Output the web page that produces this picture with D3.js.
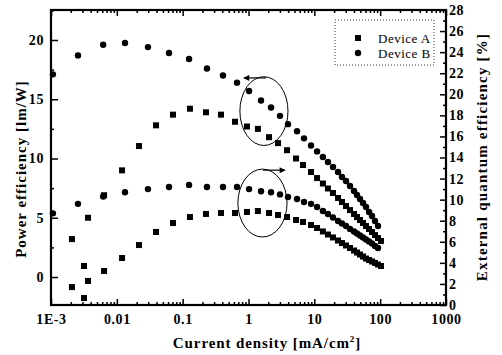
<!DOCTYPE html>
<html>
<head>
<meta charset="utf-8">
<script src="https://cdnjs.cloudflare.com/ajax/libs/d3/7.8.5/d3.min.js"></script>
<style>
body{margin:0;background:#fff;}
svg{display:block;}
text{font-family:'Liberation Serif','Times New Roman',serif;fill:#000;}
</style>
</head>
<body>
<script>
// values (current density in mA/cm2)
var currentA = [0.00208,0.00317,0.00365,0.0064,0.0120,0.0217,0.0394,0.0713,0.129,0.226,0.382,0.624,0.948,1.39,2.05,2.81,3.85,5.27,6.73,8.91,11.0,
    13.5,16.1,19.2,22.9,26.3,30.3,34.8,40.1,44.5,49.4,54.9,61.0,67.8,75.2,83.5,92.7,103];
var powerA = [3.2,0.93,5.0,6.9,9.0,11.05,12.8,13.7,14.2,13.9,13.7,13.1,12.7,12.5,11.8,11.3,10.7,10.0,9.45,8.86,8.35,
    7.89,7.47,7.09,6.67,6.33,5.99,5.65,5.32,5.06,4.81,4.56,4.30,4.05,3.80,3.54,3.29,3.04];
var eqeA = [1.7,0.66,2.28,3.23,4.46,5.69,6.93,7.78,8.35,8.64,8.73,8.73,8.83,8.92,8.73,8.54,8.35,8.07,7.88,7.59,7.31,
    6.98,6.69,6.41,6.12,5.88,5.65,5.41,5.17,4.98,4.79,4.60,4.41,4.27,4.13,3.99,3.84,3.70];

var currentB = [0.00107,0.00257,0.0062,0.0133,0.0297,0.0620,0.125,0.234,0.410,0.669,1.02,1.55,2.20,3.01,3.98,5.46,6.97,8.91,11.0,
    13.5,16.1,19.2,22.9,26.3,30.3,34.8,40.1,44.5,49.4,54.9,61.0,67.8,75.2,83.5,92.7];
var powerB = [17.1,18.7,19.6,19.75,19.4,18.9,18.4,17.6,17.0,16.4,15.7,14.9,14.3,13.6,12.9,12.3,11.7,11.1,10.6,
    10.13,9.70,9.28,8.86,8.44,8.10,7.68,7.26,6.92,6.58,6.24,5.91,5.49,5.15,4.73,4.30];
var eqeB = [8.7,9.6,10.3,10.7,11.0,11.2,11.4,11.2,11.2,11.2,11.0,10.8,10.7,10.5,10.25,10.06,9.78,9.6,9.3,
    8.92,8.64,8.30,7.97,7.74,7.50,7.21,6.98,6.79,6.60,6.41,6.22,6.03,5.84,5.60,5.41];

var xTicks = [0.001,0.01,0.1,1,10,100,1000];
var xTickLabels = ['1E-3','0.01','0.1','1','10','100','1000'];
var powerTicks = [0,5,10,15,20];
var powerMinor = [-2.5,2.5,7.5,12.5,17.5,22.5];
var eqeTicks = [0,2,4,6,8,10,12,14,16,18,20,22,24,26,28];
var legendNames = ['Device A','Device B'];

// the two circled groups: [current range], [value range], arrow [from,to] current and level
var loopPower = {current:[0.74,3.98], value:[11.1,16.9], arrow:[1.85,0.85], level:16.8};
var loopEqe = {current:[0.69,3.85], value:[6.45,12.9], arrow:[1.66,3.59], level:12.8};

var L=51,R=446,T=10,B=305;
var svg = d3.select('body').append('svg').attr('width',502).attr('height',355);

var x = d3.scaleLog().domain([1e-3,1e3]).range([L,R]);
var yP = d3.scaleLinear().domain([-2.36,22.53]).range([B,T]);
var yE = d3.scaleLinear().domain([0,28]).range([B,T]);

var xMinor = [];
for(var e=-3;e<3;e++){
    for(var k=2;k<10;k++) xMinor.push(k*Math.pow(10,e));
}
var eqeMinor = d3.range(1,28,2);

function styleAxis(g,size){
    g.select('.domain').remove();
    g.selectAll('.tick line').attr('stroke','#000').attr('stroke-width',1.5);
    g.selectAll('.tick text').attr('font-size',size).attr('font-weight','bold')
        .attr('font-family',"'Liberation Serif',serif").attr('letter-spacing','0.6px');
}

// bottom
svg.append('g').attr('transform','translate(0,'+B+')')
    .call(d3.axisBottom(x).tickValues(xTicks).tickFormat(function(d,i){return xTickLabels[i];}).tickSize(-6).tickPadding(9))
    .call(styleAxis,14);
svg.append('g').attr('transform','translate(0,'+B+')')
    .call(d3.axisBottom(x).tickValues(xMinor).tickFormat('').tickSize(-3)).call(styleAxis,14);
// top
svg.append('g').attr('transform','translate(0,'+T+')')
    .call(d3.axisTop(x).tickValues(xTicks).tickFormat('').tickSize(-6)).call(styleAxis,14);
svg.append('g').attr('transform','translate(0,'+T+')')
    .call(d3.axisTop(x).tickValues(xMinor).tickFormat('').tickSize(-3)).call(styleAxis,14);
// left
svg.append('g').attr('transform','translate('+L+',0)')
    .call(d3.axisLeft(yP).tickValues(powerTicks).tickSize(-7).tickPadding(7)).call(styleAxis,14);
svg.append('g').attr('transform','translate('+L+',0)')
    .call(d3.axisLeft(yP).tickValues(powerMinor.filter(function(v){return v>-2.36&&v<22.53;})).tickFormat('').tickSize(-3))
    .call(styleAxis,14);
// right
svg.append('g').attr('transform','translate('+R+',0)')
    .call(d3.axisRight(yE).tickValues(eqeTicks).tickSize(-6).tickPadding(3)).call(styleAxis,14);
svg.append('g').attr('transform','translate('+R+',0)')
    .call(d3.axisRight(yE).tickValues(eqeMinor).tickFormat('').tickSize(-3)).call(styleAxis,14);

svg.append('rect').attr('x',L).attr('y',T).attr('width',R-L).attr('height',B-T)
    .attr('fill','none').attr('stroke','#000').attr('stroke-width',2.2);

// titles
svg.append('text').attr('x',267).attr('y',348).attr('text-anchor','middle')
    .attr('font-size',15).attr('font-weight','bold').attr('letter-spacing','0.9px')
    .html('Current density  [mA/cm<tspan dy="-6" font-size="9">2</tspan><tspan dy="6">]</tspan>');
svg.append('text').attr('transform','translate(26,169) rotate(-90)').attr('text-anchor','middle')
    .attr('font-size',15).attr('font-weight','bold').attr('letter-spacing','1px')
    .text('Power efficiency [lm/W]');
svg.append('text').attr('transform','translate(487,157) rotate(-90)').attr('text-anchor','middle')
    .attr('font-size',15).attr('font-weight','bold').attr('letter-spacing','1.2px')
    .text('External quantum efficiency [%]');

// markers
var plot = svg.append('g');
function squares(cur,vals,y){
    plot.selectAll(null).data(cur).enter().append('rect')
        .attr('x',function(d){return x(d)-3;}).attr('y',function(d,i){return y(vals[i])-3;})
        .attr('width',6).attr('height',6).attr('fill','#000');
}
function dots(cur,vals,y){
    plot.selectAll(null).data(cur).enter().append('circle')
        .attr('cx',function(d){return x(d);}).attr('cy',function(d,i){return y(vals[i]);})
        .attr('r',3.2).attr('fill','#000');
}
squares(currentA,powerA,yP);
squares(currentA,eqeA,yE);
dots(currentB,powerB,yP);
dots(currentB,eqeB,yE);

// circled groups with arrows
var defs = svg.append('defs');
defs.append('marker').attr('id','head').attr('viewBox','0 0 10 10').attr('refX',9).attr('refY',5)
    .attr('markerWidth',7).attr('markerHeight',6).attr('markerUnits','userSpaceOnUse').attr('orient','auto')
    .append('path').attr('d','M0,0L10,5L0,10z').attr('fill','#000');
function loop(o,y){
    var x0=x(o.current[0]),x1=x(o.current[1]),y0=y(o.value[1]),y1=y(o.value[0]);
    svg.append('ellipse').attr('cx',(x0+x1)/2).attr('cy',(y0+y1)/2)
        .attr('rx',(x1-x0)/2).attr('ry',(y1-y0)/2)
        .attr('fill','none').attr('stroke','#000').attr('stroke-width',1);
    svg.append('line').attr('x1',x(o.arrow[0])).attr('y1',y(o.level)).attr('x2',x(o.arrow[1])).attr('y2',y(o.level))
        .attr('stroke','#000').attr('stroke-width',1.2).attr('marker-end','url(#head)');
}
loop(loopPower,yP);
loop(loopEqe,yE);

// legend
var leg = svg.append('g');
leg.append('rect').attr('x',335).attr('y',20).attr('width',99).attr('height',45)
    .attr('fill','none').attr('stroke','#000').attr('stroke-width',0.8).attr('stroke-dasharray','1,2');
leg.append('rect').attr('x',355).attr('y',35).attr('width',6).attr('height',6).attr('fill','#000');
leg.append('circle').attr('cx',358).attr('cy',53).attr('r',3.2).attr('fill','#000');
leg.selectAll(null).data(legendNames).enter().append('text')
    .attr('x',378).attr('y',function(d,i){return 43+i*15;})
    .attr('font-size',13).attr('letter-spacing','0.5px').text(function(d){return d;});
</script>
</body>
</html>
